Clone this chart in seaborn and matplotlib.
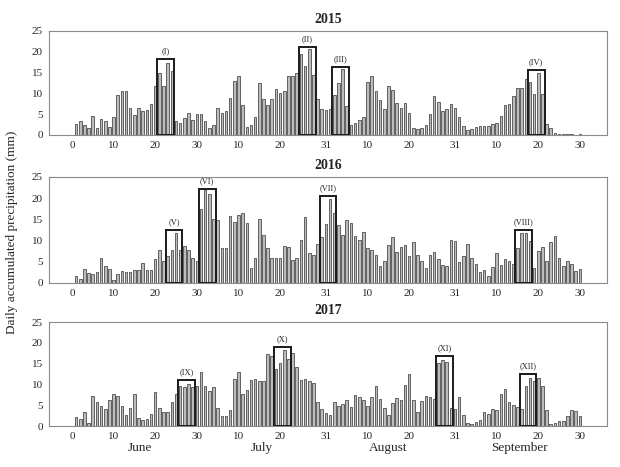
import numpy as np
import pandas as pd
import matplotlib
matplotlib.use("Agg")
import matplotlib.pyplot as plt
from matplotlib.patches import Rectangle
import matplotlib.transforms as mtransforms
import seaborn as sns

sns.set_style("white")
plt.rcParams['font.family'] = ['Liberation Serif', 'DejaVu Serif']

days = list(range(1, 123))

precip_2015 = [
    2.7, 3.4, 2.3, 1.6, 4.6, 1.6, 3.8, 3.3, 2.0, 4.4,
    9.5, 10.6, 10.6, 6.6, 4.8, 6.6, 5.8, 6.0, 7.4, 11.8,
    14.8, 11.8, 17.4, 15.5, 3.4, 3.0, 4.2, 5.2, 3.5, 5.1,
    5.0, 3.4, 1.8, 2.4, 6.4, 5.2, 5.8, 8.8, 13.1, 14.3,
    7.2, 2.0, 2.4, 4.4, 12.6, 8.6, 7.2, 8.6, 11.0, 10.2,
    10.6, 14.2, 14.2, 15.0, 19.5, 16.6, 20.6, 14.5, 8.6, 6.2,
    6.0, 6.2, 9.6, 12.4, 15.8, 6.9, 2.4, 2.9, 3.7, 4.4,
    12.7, 14.1, 10.5, 8.4, 6.2, 11.8, 10.7, 7.8, 6.6, 7.8,
    5.4, 1.8, 1.4, 1.8, 2.4, 5.0, 9.4, 8.0, 5.8, 6.2,
    7.4, 6.5, 4.4, 2.2, 1.1, 1.4, 2.0, 2.2, 2.2, 2.2,
    2.6, 3.0, 4.6, 7.2, 7.5, 9.3, 11.4, 11.4, 13.4, 12.8,
    9.8, 15.0, 9.8, 2.6, 1.6, 0.5, 0.2, 0.2, 0.2, 0.2,
    0.1, 0.3,
]

precip_2016 = [
    1.6, 1.0, 3.3, 2.4, 2.1, 2.6, 5.8, 3.9, 3.2, 0.8,
    2.1, 2.9, 2.7, 2.5, 3.1, 3.1, 4.6, 3.1, 3.1, 5.6,
    7.9, 5.1, 6.4, 7.9, 11.7, 7.9, 8.7, 7.9, 5.8, 5.2,
    17.4, 21.9, 21.0, 15.1, 14.8, 8.3, 8.2, 15.7, 14.3, 16.0,
    16.6, 14.2, 3.5, 5.9, 15.2, 11.4, 8.3, 6.0, 6.0, 6.0,
    8.7, 8.4, 5.4, 6.0, 10.2, 15.6, 7.0, 6.6, 9.3, 10.8,
    13.8, 19.8, 16.4, 13.6, 11.3, 14.8, 14.1, 11.1, 10.2, 12.1,
    8.3, 7.9, 6.7, 4.1, 5.1, 9.0, 10.9, 7.2, 8.5, 9.0,
    6.4, 9.7, 6.7, 5.2, 3.6, 6.6, 7.2, 5.7, 4.2, 4.1,
    10.1, 9.9, 4.9, 6.3, 9.1, 6.0, 4.4, 2.5, 3.0, 1.7,
    3.7, 7.1, 4.2, 5.6, 5.2, 4.4, 8.2, 11.8, 11.8, 9.8,
    3.6, 7.6, 8.4, 5.3, 9.6, 11.2, 5.9, 4.1, 5.2, 4.4,
    2.9, 3.3,
]

precip_2017 = [
    2.1, 1.6, 3.4, 0.8, 7.3, 5.7, 4.8, 4.2, 6.2, 7.8,
    7.2, 4.8, 2.6, 4.4, 7.7, 2.0, 1.4, 1.7, 3.0, 8.1,
    4.4, 3.4, 3.3, 5.7, 7.6, 9.6, 9.3, 10.2, 9.3, 9.6,
    13.0, 9.7, 8.4, 9.3, 4.4, 2.3, 2.3, 3.9, 11.2, 13.0,
    7.6, 8.6, 11.0, 11.4, 10.7, 10.7, 17.4, 16.8, 13.7, 15.2,
    18.2, 16.1, 17.6, 14.1, 11.0, 11.4, 10.7, 10.4, 5.7, 4.2,
    3.2, 2.6, 5.8, 4.7, 5.4, 6.2, 4.6, 7.5, 7.0, 6.2,
    4.7, 6.9, 9.5, 6.4, 4.3, 2.6, 5.5, 6.8, 6.2, 9.8,
    12.4, 6.2, 3.3, 5.9, 7.3, 6.9, 6.6, 15.2, 15.8, 15.4,
    4.4, 4.2, 6.9, 2.7, 0.8, 0.5, 0.9, 1.4, 3.3, 2.9,
    4.0, 3.8, 7.7, 8.9, 5.8, 5.0, 4.6, 4.1, 9.6, 11.6,
    10.8, 11.6, 9.5, 3.8, 0.6, 0.8, 1.2, 1.3, 2.4, 3.8,
    3.6, 2.4,
]

years = ["2015", "2016", "2017"]

# highlighted events: (first day, last day, box top, label)
events_2015 = [(21, 24, 18.3, "(I)"), (55, 58, 21.1, "(II)"),
               (63, 66, 16.4, "(III)"), (110, 113, 15.6, "(IV)")]
events_2016 = [(23, 26, 12.5, "(V)"), (31, 34, 22.1, "(VI)"),
               (60, 63, 20.5, "(VII)"), (107, 110, 12.4, "(VIII)")]
events_2017 = [(26, 29, 11.0, "(IX)"), (49, 52, 19.0, "(X)"),
               (88, 91, 16.8, "(XI)"), (108, 111, 12.4, "(XII)")]

tick_pos = [0, 10, 20, 30, 40, 50, 61, 71, 81, 92, 102, 112, 122]
tick_labels = ["0", "10", "20", "30", "10", "20", "31", "10", "20", "31",
               "10", "20", "30"]
month_names = ["June", "July", "August", "September"]
month_pos = [16.3, 45.7, 76.0, 107.5]

series = [precip_2015, precip_2016, precip_2017]
events = [events_2015, events_2016, events_2017]

fig = plt.figure(figsize=(6.2, 4.67), dpi=100)
W, H = 620, 467
panel_px = [(31, 135), (177, 283), (322, 426)]
left_px, right_px = 49, 607

for i, (yr, vals, evs) in enumerate(zip(years, series, events)):
    top, bot = panel_px[i]
    ax = fig.add_axes([left_px / W, 1 - bot / H, (right_px - left_px) / W,
                       (bot - top) / H])
    df = pd.DataFrame({"day": days, "precip": vals})
    sns.barplot(data=df, x="day", y="precip", native_scale=True, width=0.62,
                color="#bcbcbc", edgecolor="#4d4d4d", linewidth=0.6,
                saturation=1, ax=ax)
    for (d0, d1, htop, lab) in evs:
        ax.add_patch(Rectangle((d0 - 0.5, 0), d1 - d0 + 1, htop, fill=False,
                               edgecolor="#1a1a1a", linewidth=1.4, zorder=5))
        ax.text((d0 + d1) / 2, htop + 0.9, lab, ha="center", va="bottom",
                fontsize=6)
    ax.set_xlim(-5.5, 128.5)
    ax.set_ylim(0, 25)
    ax.set_yticks([0, 5, 10, 15, 20, 25])
    ax.set_xticks(tick_pos)
    ax.set_xticklabels(tick_labels)
    ax.tick_params(axis="both", labelsize=8, length=2.5, width=0.6,
                   color="#555555", pad=2)
    ax.tick_params(axis="x", length=0, pad=4)
    ax.set_xlabel("")
    ax.set_ylabel("")
    for s in ax.spines.values():
        s.set_color("#8a8a8a")
        s.set_linewidth(0.8)
    ax.set_title(yr, fontsize=10, fontweight="bold", pad=6)
    if i == 2:
        trans = mtransforms.blended_transform_factory(ax.transData, ax.transAxes)
        for name, pos in zip(month_names, month_pos):
            ax.text(pos, -0.21, name, transform=trans, ha="center", va="center",
                    fontsize=9.5)

fig.text(12 / W, 1 - 232 / H, "Daily accumulated precipitation (mm)",
         rotation=90, ha="center", va="center", fontsize=9.5)

fig.savefig("out.png", dpi=100)
